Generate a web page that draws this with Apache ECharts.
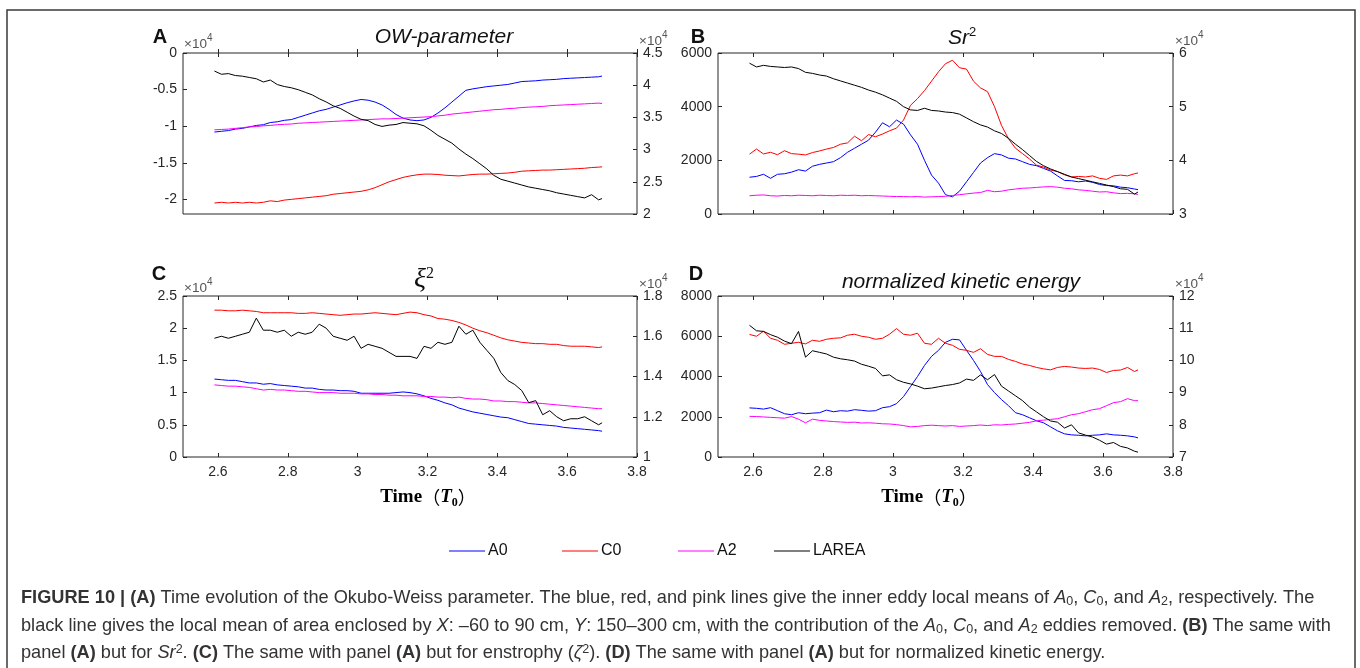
<!DOCTYPE html>
<html>
<head>
<meta charset="utf-8">
<script src="https://cdn.jsdelivr.net/npm/echarts@6/dist/echarts.min.js"></script>
<style>
  html, body { margin: 0; padding: 0; background: #ffffff; }
  #chart { width: 1360px; height: 668px; }
</style>
</head>
<body>
<div id="chart"></div>
<script>
// ---------------- data ----------------
// time in units of T0
const time = [2.59,2.61,2.63,2.65,2.67,2.69,2.71,2.73,2.75,2.77,2.79,2.81,2.83,2.85,2.87,2.89,2.91,2.93,2.95,2.97,
  2.99,3.01,3.03,3.05,3.07,3.09,3.11,3.13,3.15,3.17,3.19,3.21,3.23,3.25,3.27,3.29,3.31,3.33,3.35,3.37,
  3.39,3.41,3.43,3.45,3.47,3.49,3.51,3.53,3.55,3.57,3.59,3.61,3.63,3.65,3.67,3.69,3.70];

// (A) Okubo-Weiss parameter, eddy means (x1e4) and LAREA (x1e4, right axis)
const owA0 = [-1.08,-1.07,-1.06,-1.04,-1.03,-1.01,-0.99,-0.98,-0.95,-0.94,
  -0.92,-0.91,-0.88,-0.85,-0.82,-0.79,-0.77,-0.74,-0.71,-0.68,
  -0.655,-0.635,-0.645,-0.67,-0.71,-0.77,-0.84,-0.89,-0.915,-0.925,
  -0.915,-0.88,-0.82,-0.75,-0.67,-0.59,-0.51,-0.49,-0.475,-0.46,
  -0.45,-0.44,-0.43,-0.41,-0.39,-0.385,-0.38,-0.37,-0.365,-0.36,
  -0.35,-0.345,-0.34,-0.335,-0.33,-0.325,-0.315];
const owC0 = [-2.05,-2.04,-2.05,-2.04,-2.05,-2.04,-2.05,-2.04,-2.02,-2.03,
  -2.01,-2.0,-1.99,-1.98,-1.97,-1.96,-1.95,-1.93,-1.92,-1.91,
  -1.9,-1.89,-1.87,-1.84,-1.8,-1.76,-1.73,-1.7,-1.68,-1.665,
  -1.655,-1.655,-1.66,-1.67,-1.675,-1.68,-1.67,-1.66,-1.655,-1.655,
  -1.65,-1.645,-1.64,-1.63,-1.615,-1.61,-1.605,-1.6,-1.6,-1.595,
  -1.59,-1.585,-1.58,-1.575,-1.565,-1.56,-1.555];
const owA2 = [-1.05,-1.045,-1.04,-1.03,-1.02,-1.01,-1.005,-0.995,-0.99,-0.98,
  -0.975,-0.97,-0.96,-0.955,-0.95,-0.945,-0.94,-0.935,-0.93,-0.925,
  -0.92,-0.915,-0.91,-0.905,-0.9,-0.9,-0.895,-0.89,-0.885,-0.88,
  -0.875,-0.87,-0.86,-0.85,-0.835,-0.825,-0.815,-0.805,-0.795,-0.785,
  -0.775,-0.77,-0.76,-0.755,-0.745,-0.74,-0.735,-0.73,-0.72,-0.715,
  -0.71,-0.705,-0.7,-0.695,-0.69,-0.685,-0.69];
const owArea = [4.22,4.17,4.18,4.15,4.14,4.12,4.10,4.05,4.08,4.01,
  3.98,3.96,3.93,3.89,3.85,3.79,3.74,3.68,3.64,3.58,
  3.52,3.47,3.45,3.39,3.36,3.38,3.39,3.42,3.41,3.40,
  3.37,3.30,3.22,3.16,3.10,3.01,2.93,2.86,2.78,2.70,
  2.60,2.54,2.51,2.48,2.45,2.42,2.40,2.38,2.36,2.33,
  2.31,2.29,2.27,2.25,2.30,2.22,2.24];

// (B) Sr^2, eddy means and LAREA (x1e4, right axis)
const srA0 = [1370,1400,1480,1330,1480,1500,1560,1650,1600,1780,
  1850,1900,1950,2100,2300,2450,2600,2750,3050,3400,
  3250,3500,3350,2950,2600,2000,1450,1150,720,640,
  850,1200,1550,1900,2100,2250,2200,2080,2050,1950,
  1850,1800,1700,1600,1420,1250,1240,1200,1230,1180,
  1100,1060,1050,1000,980,930,910];
const srC0 = [2230,2420,2240,2300,2210,2360,2250,2230,2200,2290,
  2350,2420,2480,2600,2650,2900,2730,2960,2880,2980,
  3100,3200,3500,4050,4300,4600,4950,5300,5600,5730,
  5450,5400,4950,4700,4560,4000,3300,2800,2450,2250,
  2050,1820,1750,1640,1580,1460,1380,1400,1380,1420,
  1330,1290,1420,1450,1420,1500,1530];
const srA2 = [680,700,710,680,670,690,680,700,690,680,
  700,690,680,700,690,700,680,690,680,670,
  660,650,650,640,650,630,640,650,660,690,
  720,750,780,800,880,830,850,900,930,960,
  970,990,1010,1020,1000,960,940,900,880,850,
  820,830,790,760,770,750,730];
const srArea = [5.81,5.74,5.77,5.75,5.74,5.73,5.74,5.71,5.64,5.62,
  5.59,5.57,5.52,5.48,5.44,5.40,5.36,5.31,5.27,5.22,
  5.16,5.10,5.00,4.94,4.93,4.97,4.93,4.92,4.90,4.89,
  4.86,4.79,4.72,4.66,4.62,4.55,4.50,4.41,4.30,4.20,
  4.09,3.98,3.90,3.84,3.79,3.74,3.69,3.66,3.63,3.60,
  3.57,3.54,3.51,3.47,3.46,3.37,3.41];

// (C) enstrophy, eddy means (x1e4) and LAREA (x1e4, right axis)
const xiA0 = [1.21,1.20,1.19,1.19,1.17,1.15,1.15,1.13,1.14,1.12,
  1.11,1.10,1.09,1.07,1.07,1.05,1.04,1.04,1.03,1.03,
  1.02,0.99,0.99,0.99,0.99,0.99,1.00,1.01,1.00,0.98,
  0.95,0.91,0.88,0.84,0.81,0.76,0.73,0.70,0.68,0.66,
  0.64,0.62,0.61,0.58,0.55,0.52,0.51,0.50,0.49,0.48,
  0.46,0.45,0.44,0.43,0.42,0.41,0.40];
const xiC0 = [2.28,2.28,2.27,2.27,2.28,2.27,2.26,2.24,2.24,2.24,
  2.24,2.24,2.23,2.23,2.24,2.23,2.22,2.21,2.20,2.21,
  2.22,2.22,2.23,2.24,2.23,2.22,2.21,2.23,2.25,2.24,
  2.21,2.19,2.15,2.14,2.12,2.09,2.05,2.00,1.96,1.93,
  1.89,1.85,1.82,1.80,1.78,1.77,1.76,1.76,1.75,1.75,
  1.73,1.72,1.72,1.72,1.71,1.70,1.71];
const xiA2 = [1.12,1.11,1.10,1.10,1.09,1.08,1.06,1.04,1.05,1.04,
  1.04,1.03,1.02,1.02,1.01,1.00,1.00,1.00,0.99,0.99,
  0.99,0.98,0.98,0.97,0.97,0.96,0.96,0.95,0.95,0.95,
  0.94,0.94,0.93,0.93,0.92,0.93,0.91,0.90,0.90,0.89,
  0.87,0.87,0.86,0.86,0.85,0.84,0.84,0.83,0.82,0.81,
  0.80,0.79,0.78,0.77,0.76,0.75,0.75];
const xiArea = [1.59,1.60,1.59,1.60,1.61,1.62,1.69,1.63,1.63,1.62,
  1.63,1.60,1.62,1.61,1.62,1.66,1.64,1.60,1.59,1.58,
  1.60,1.54,1.56,1.55,1.54,1.52,1.50,1.50,1.50,1.49,
  1.55,1.54,1.57,1.56,1.57,1.65,1.61,1.63,1.57,1.53,
  1.49,1.42,1.38,1.36,1.33,1.27,1.28,1.21,1.23,1.20,
  1.18,1.19,1.19,1.20,1.18,1.16,1.17];

// (D) normalized kinetic energy, eddy means and LAREA (x1e4, right axis)
const keA0 = [2440,2420,2380,2450,2300,2150,2100,2200,2150,2180,
  2200,2330,2250,2300,2280,2350,2320,2280,2300,2450,
  2500,2650,3000,3500,4000,4550,5000,5300,5700,5850,
  5820,5300,4800,4250,3600,3200,2850,2550,2200,2100,
  1950,1800,1700,1500,1300,1150,1100,1080,1050,1080,
  1100,1150,1100,1080,1050,1000,950];
const keC0 = [6090,6000,6250,5900,5800,5600,5650,5700,5620,5800,
  5750,5850,5900,5920,6050,6100,6000,5950,5850,5900,
  6100,6380,6100,6050,6150,5650,5600,5900,5650,5550,
  5350,5300,5200,5380,5100,5000,5000,4850,4750,4620,
  4550,4450,4380,4330,4450,4500,4470,4420,4400,4420,
  4350,4200,4300,4320,4450,4250,4330];
const keA2 = [2020,2010,1990,1970,1950,1930,2010,1880,1700,1880,
  1820,1790,1760,1740,1720,1730,1690,1700,1680,1650,
  1640,1610,1560,1500,1520,1560,1580,1560,1540,1560,
  1520,1540,1560,1590,1560,1600,1590,1620,1640,1680,
  1720,1800,1830,1870,1900,2000,2100,2150,2250,2350,
  2400,2550,2700,2750,2900,2800,2800];
const keArea = [11.09,10.92,10.90,10.80,10.72,10.60,10.52,10.90,10.10,10.30,
  10.25,10.20,10.10,10.05,10.02,9.98,9.88,9.82,9.75,9.52,
  9.55,9.40,9.32,9.27,9.20,9.12,9.14,9.18,9.22,9.25,
  9.30,9.42,9.38,9.55,9.40,9.56,9.20,9.05,8.90,8.75,
  8.55,8.40,8.25,8.12,8.08,7.90,8.00,7.75,7.68,7.62,
  7.52,7.40,7.45,7.33,7.28,7.18,7.15];

// tick values
const timeTicks = [2.6, 2.8, 3, 3.2, 3.4, 3.6, 3.8];
const owLeftTicks = [-2, -1.5, -1, -0.5, 0];
const owRightTicks = [2, 2.5, 3, 3.5, 4, 4.5];
const srLeftTicks = [0, 2000, 4000, 6000];
const srRightTicks = [3, 4, 5, 6];
const xiLeftTicks = [0, 0.5, 1, 1.5, 2, 2.5];
const xiRightTicks = [1, 1.2, 1.4, 1.6, 1.8];
const keLeftTicks = [0, 2000, 4000, 6000, 8000];
const keRightTicks = [7, 8, 9, 10, 11, 12];

const seriesNames = ['A0', 'C0', 'A2', 'LAREA'];
const seriesColors = ['#0000ff', '#ff0000', '#ff00ff', '#000000'];

// ---------------- layout & style ----------------
const ink = '#262626';
const sans = '"Liberation Sans", Arial, Helvetica, sans-serif';
const serif = '"Liberation Serif", "Times New Roman", serif';

const panels = [
  { grid: { left: 183, top: 53, width: 454, height: 161 }, labels: false,
    lines: [owA0, owC0, owA2, owArea],
    left: { min: -2.2, max: 0, ticks: owLeftTicks }, right: { min: 2, max: 4.5, ticks: owRightTicks } },
  { grid: { left: 718, top: 53, width: 455, height: 161 }, labels: false,
    lines: [srA0, srC0, srA2, srArea],
    left: { min: 0, max: 6000, ticks: srLeftTicks }, right: { min: 3, max: 6, ticks: srRightTicks } },
  { grid: { left: 183, top: 296, width: 454, height: 161 }, labels: true,
    lines: [xiA0, xiC0, xiA2, xiArea],
    left: { min: 0, max: 2.5, ticks: xiLeftTicks }, right: { min: 1, max: 1.8, ticks: xiRightTicks } },
  { grid: { left: 718, top: 296, width: 455, height: 161 }, labels: true,
    lines: [keA0, keC0, keA2, keArea],
    left: { min: 0, max: 8000, ticks: keLeftTicks }, right: { min: 7, max: 12, ticks: keRightTicks } }
];

const plain = v => String(v);
const labelStyle = { color: ink, fontSize: 14, fontFamily: sans, formatter: plain };
const tickStyle = { show: true, inside: true, length: 4, lineStyle: { color: ink, width: 1 } };

const grids = [], xAxes = [], yAxes = [], series = [];
panels.forEach((p, gi) => {
  grids.push(Object.assign({ show: true, borderColor: ink, borderWidth: 1, containLabel: false,
    outerBoundsMode: 'none', backgroundColor: 'transparent' }, p.grid));
  xAxes[gi] = { type: 'value', gridIndex: gi, position: 'bottom', min: 2.5, max: 3.8,
    axisLine: { show: false }, splitLine: { show: false },
    axisTick: Object.assign({ customValues: timeTicks }, tickStyle),
    axisLabel: Object.assign({ show: p.labels, customValues: timeTicks, margin: 8 }, labelStyle) };
  xAxes[4 + gi] = { type: 'value', gridIndex: gi, position: 'top', min: 2.5, max: 3.8,
    axisLine: { show: false }, splitLine: { show: false },
    axisTick: Object.assign({ customValues: timeTicks }, tickStyle),
    axisLabel: { show: false } };
  yAxes.push({ type: 'value', gridIndex: gi, position: 'left', min: p.left.min, max: p.left.max,
    axisLine: { show: false }, splitLine: { show: false },
    axisTick: Object.assign({ customValues: p.left.ticks }, tickStyle),
    axisLabel: Object.assign({ customValues: p.left.ticks, margin: 6 }, labelStyle) });
  yAxes.push({ type: 'value', gridIndex: gi, position: 'right', min: p.right.min, max: p.right.max,
    axisLine: { show: false }, splitLine: { show: false },
    axisTick: Object.assign({ customValues: p.right.ticks }, tickStyle),
    axisLabel: Object.assign({ customValues: p.right.ticks, margin: 6 }, labelStyle) });
  p.lines.forEach((vals, si) => {
    series.push({
      name: seriesNames[si], type: 'line', xAxisIndex: gi, yAxisIndex: 2 * gi + (si === 3 ? 1 : 0),
      data: time.map((t, i) => [t, vals[i]]),
      symbol: 'none', showSymbol: false, smooth: false, silent: true,
      lineStyle: { color: seriesColors[si], width: 1 },
      itemStyle: { color: seriesColors[si] }
    });
  });
});

// legend: one entry per component so the spacing can follow the figure
const legendLeft = [449, 562, 678, 774];
const legends = seriesNames.map((n, i) => ({
  data: [n], left: legendLeft[i], top: 543, padding: 0, icon: 'rect', itemWidth: 36, itemHeight: 1, itemGap: 0,
  selectedMode: false, itemStyle: { borderWidth: 0 },
  textStyle: { fontSize: 16, fontFamily: sans, color: '#111', padding: [0, 0, 0, -2] }
}));

// ---------------- text ----------------
function txt(x, y, text, font, extra) {
  return { type: 'text', x, y, silent: true,
    style: Object.assign({ text, font, fill: '#111', textAlign: 'center', textVerticalAlign: 'middle' }, extra || {}) };
}
const expRich = {
  m: { fontSize: 13.5, fontFamily: sans, fill: '#555', color: '#555', lineHeight: 18, verticalAlign: 'bottom' },
  s: { fontSize: 10, fontFamily: sans, fill: '#555', color: '#555', lineHeight: 9, verticalAlign: 'top' }
};
function expo(x, y) {
  return { type: 'text', x, y, silent: true,
    style: { text: '{m|\u00d710}{s|4}', rich: expRich, textAlign: 'left', textVerticalAlign: 'middle' } };
}
function timeLabel(x, y) {
  return { type: 'text', x, y, silent: true,
    style: { text: '{t|Time}{p|\uff08}{ti|T}{sub|0}{p|\uff09}', textAlign: 'center', textVerticalAlign: 'middle',
      rich: {
        t: { fontSize: 19, fontWeight: 'bold', fontFamily: serif, fill: '#000', lineHeight: 24 },
        p: { fontSize: 18, fontFamily: '"Noto Sans CJK SC", sans-serif', fill: '#000', lineHeight: 24 },
        ti: { fontSize: 19, fontWeight: 'bold', fontStyle: 'italic', fontFamily: serif, fill: '#000', lineHeight: 24 },
        sub: { fontSize: 12, fontWeight: 'bold', fontFamily: serif, fill: '#000', lineHeight: 14, verticalAlign: 'bottom' }
      } } };
}

// caption
const capSize = 18.2;
const subSize = 12.5;
const capRich = {
  r: { fontSize: capSize, fontFamily: sans, fill: '#333', lineHeight: 20 },
  b: { fontSize: capSize, fontFamily: sans, fontWeight: 'bold', fill: '#333', lineHeight: 20 },
  i: { fontSize: capSize, fontFamily: sans, fontStyle: 'italic', fill: '#333', lineHeight: 20 },
  sub: { fontSize: subSize, fontFamily: sans, fill: '#333', lineHeight: 12, verticalAlign: 'bottom' },
  sup: { fontSize: subSize, fontFamily: sans, fill: '#333', lineHeight: 12, verticalAlign: 'top' }
};
const capLines = [
  '{b|FIGURE 10 | (A)}{r| Time evolution of the Okubo-Weiss parameter. The blue, red, and pink lines give the inner eddy local means of }{i|A}{sub|0}{r|, }{i|C}{sub|0}{r|, and }{i|A}{sub|2}{r|, respectively. The}',
  '{r|black line gives the local mean of area enclosed by }{i|X}{r|: \u201360 to 90 cm, }{i|Y}{r|: 150\u2013300 cm, with the contribution of the }{i|A}{sub|0}{r|, }{i|C}{sub|0}{r|, and }{i|A}{sub|2}{r| eddies removed. }{b|(B)}{r| The same with}',
  '{r|panel }{b|(A)}{r| but for }{i|Sr}{sup|2}{r|. }{b|(C)}{r| The same with panel }{b|(A)}{r| but for enstrophy (}{i|\u03b6}{sup|2}{r|). }{b|(D)}{r| The same with panel }{b|(A)}{r| but for normalized kinetic energy.}'
];
const capY = [598, 626, 653];

const graphics = [
  { type: 'rect', silent: true, shape: { x: 7, y: 10, width: 1348, height: 700 },
    style: { fill: 'none', stroke: '#3a3a3a', lineWidth: 1.5 } },
  txt(160, 37, 'A', 'bold 20px ' + sans),
  txt(698, 37, 'B', 'bold 20px ' + sans),
  txt(159, 274, 'C', 'bold 20px ' + sans),
  txt(696, 274, 'D', 'bold 20px ' + sans),
  txt(444, 37, 'OW-parameter', 'italic 21px ' + sans),
  { type: 'text', x: 962, y: 38, silent: true,
    style: { text: '{i|Sr}{s|2}', textAlign: 'center', textVerticalAlign: 'middle', rich: {
      i: { fontSize: 21, fontStyle: 'italic', fontFamily: sans, fill: '#111', lineHeight: 24 },
      s: { fontSize: 13, fontFamily: sans, fill: '#111', lineHeight: 12, verticalAlign: 'top' } } } },
  { type: 'text', x: 424, y: 280, silent: true,
    style: { text: '{g|\u03be}{s|2}', textAlign: 'center', textVerticalAlign: 'middle', rich: {
      g: { fontSize: 28, fontStyle: 'italic', fontFamily: serif, fill: '#111', lineHeight: 28 },
      s: { fontSize: 16, fontFamily: serif, fill: '#111', lineHeight: 14, verticalAlign: 'top' } } } },
  txt(961, 282, 'normalized kinetic energy', 'italic 21px ' + sans),
  expo(184, 42), expo(639, 39), expo(1175, 39),
  expo(184, 286), expo(639, 282), expo(1175, 282),
  timeLabel(428, 497), timeLabel(929, 497)
];
capLines.forEach((line, k) => {
  graphics.push({ type: 'text', x: 21, y: capY[k], silent: true,
    style: { text: line, rich: capRich, textAlign: 'left', textVerticalAlign: 'middle' } });
});

const chart = echarts.init(document.getElementById('chart'), null, { renderer: 'canvas' });
chart.setOption({
  animation: false,
  backgroundColor: '#ffffff',
  grid: grids,
  xAxis: xAxes,
  yAxis: yAxes,
  legend: legends,
  series: series,
  graphic: graphics
});
</script>
</body>
</html>
